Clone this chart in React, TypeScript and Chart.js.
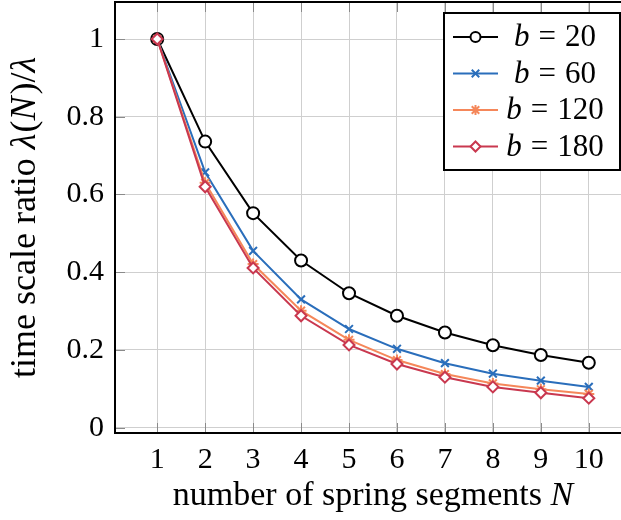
import { useEffect, useRef } from 'react';
import { Chart, registerables } from 'chart.js';

Chart.register(...registerables);

const segments = [1, 2, 3, 4, 5, 6, 7, 8, 9, 10];
const b20 = [1, 0.736, 0.552, 0.43, 0.346, 0.288, 0.245, 0.212, 0.187, 0.167];
const b60 = [1, 0.657, 0.455, 0.33, 0.254, 0.203, 0.166, 0.139, 0.121, 0.105];
const b120 = [1, 0.63, 0.421, 0.301, 0.226, 0.174, 0.138, 0.114, 0.099, 0.087];
const b180 = [1, 0.62, 0.411, 0.288, 0.213, 0.164, 0.13, 0.105, 0.09, 0.076];
const seriesLabels = ['20', '60', '120', '180'];
const xTicks = [1, 2, 3, 4, 5, 6, 7, 8, 9, 10];
const yTicks = [0, 0.2, 0.4, 0.6, 0.8, 1];
const yTickLabels = ['0', '0.2', '0.4', '0.6', '0.8', '1'];
const xTitle = 'number of spring segments ';
const yTitle = 'time scale ratio ';

const FONT = '"Liberation Serif", "Times New Roman", serif';
const COLORS = ['#000000', '#2a6ebb', '#f5875a', '#c9384f'];
const STYLES = ['circle', 'crossRot', 'star', 'rectRot'];

type Part = { t?: string; i?: boolean; g?: number };

function drawMixed(ctx: CanvasRenderingContext2D, parts: Part[], cx: number, cy: number, size: number) {
  let total = 0;
  const widths: number[] = [];
  for (const p of parts) {
    if (p.g) { widths.push(p.g); total += p.g; continue; }
    ctx.font = `${p.i ? 'italic ' : ''}${size}px ${FONT}`;
    const w = ctx.measureText(p.t || '').width;
    widths.push(w);
    total += w;
  }
  let x = cx - total / 2;
  ctx.textBaseline = 'middle';
  ctx.textAlign = 'left';
  ctx.fillStyle = '#000';
  parts.forEach((p, k) => {
    if (!p.g) {
      ctx.font = `${p.i ? 'italic ' : ''}${size}px ${FONT}`;
      ctx.fillText(p.t || '', x, cy);
    }
    x += widths[k];
  });
}

function drawMarker(ctx: CanvasRenderingContext2D, style: string, x: number, y: number, r: number, color: string) {
  ctx.save();
  ctx.strokeStyle = color;
  ctx.lineWidth = 2;
  ctx.fillStyle = '#fff';
  ctx.beginPath();
  if (style === 'circle') {
    ctx.arc(x, y, r, 0, Math.PI * 2);
    ctx.fill();
    ctx.stroke();
  } else if (style === 'crossRot') {
    const d = r * 0.75;
    ctx.moveTo(x - d, y - d); ctx.lineTo(x + d, y + d);
    ctx.moveTo(x - d, y + d); ctx.lineTo(x + d, y - d);
    ctx.stroke();
  } else if (style === 'star') {
    const d = r * 0.75;
    ctx.moveTo(x - d, y - d); ctx.lineTo(x + d, y + d);
    ctx.moveTo(x - d, y + d); ctx.lineTo(x + d, y - d);
    ctx.moveTo(x, y - r); ctx.lineTo(x, y + r);
    ctx.moveTo(x - r, y); ctx.lineTo(x + r, y);
    ctx.stroke();
  } else {
    ctx.moveTo(x, y - r); ctx.lineTo(x + r, y); ctx.lineTo(x, y + r); ctx.lineTo(x - r, y);
    ctx.closePath();
    ctx.fill();
    ctx.stroke();
  }
  ctx.restore();
}

const decorPlugin = {
  id: 'decor',
  afterDatasetsDraw(chart: any) {
    const ctx: CanvasRenderingContext2D = chart.ctx;
    const a = chart.chartArea;
    const xs = chart.scales.x;
    const ys = chart.scales.y;
    ctx.save();
    // inner tick marks
    ctx.strokeStyle = '#8a8a8a';
    ctx.lineWidth = 1;
    ctx.beginPath();
    for (const v of xTicks) {
      const px = Math.round(xs.getPixelForValue(v)) + 0.5;
      ctx.moveTo(px, a.bottom); ctx.lineTo(px, a.bottom - 10);
      ctx.moveTo(px, a.top); ctx.lineTo(px, a.top + 10);
    }
    for (const v of yTicks) {
      const py = Math.round(ys.getPixelForValue(v)) + 0.5;
      ctx.moveTo(a.left, py); ctx.lineTo(a.left + 10, py);
    }
    ctx.stroke();
    // frame
    ctx.strokeStyle = '#000';
    ctx.lineWidth = 2;
    ctx.strokeRect(a.left, a.top, a.right - a.left, a.bottom - a.top);

    // legend
    const lx = 444, ly = 13, lw = 176, lh = 157;
    ctx.fillStyle = '#fff';
    ctx.fillRect(lx, ly, lw, lh);
    ctx.strokeRect(lx, ly, lw, lh);
    seriesLabels.forEach((lab, k) => {
      const y = 37 + k * 36.5;
      ctx.strokeStyle = COLORS[k];
      ctx.lineWidth = 2;
      ctx.beginPath();
      ctx.moveTo(453, y); ctx.lineTo(498, y);
      ctx.stroke();
      drawMarker(ctx, STYLES[k], 475.5, y, 5, COLORS[k]);
      drawMixed(ctx, [{ t: 'b', i: true }, { g: 9 }, { t: '=' }, { g: 9 }, { t: lab }], 555, y + 1, 31);
    });

    // axis titles
    drawMixed(ctx, [{ t: xTitle }, { t: 'N', i: true }], (a.left + a.right) / 2, 496, 34);
    ctx.translate(26, (a.top + a.bottom) / 2);
    ctx.rotate(-Math.PI / 2);
    drawMixed(ctx, [{ t: yTitle }, { t: 'λ', i: true }, { g: 1 }, { t: '(' }, { t: 'N', i: true }, { g: 2 }, { t: ')/' }, { t: 'λ', i: true }], 0, 0, 36);
    ctx.restore();
  },
};

export default function App() {
  const ref = useRef<HTMLCanvasElement>(null);
  useEffect(() => {
    if (!ref.current) return;
    const series = [b20, b60, b120, b180];
    const chart = new Chart(ref.current, {
      type: 'line',
      data: {
        datasets: series.map((s, k) => ({
          label: 'b = ' + seriesLabels[k],
          data: segments.map((n, i) => ({ x: n, y: s[i] })),
          borderColor: COLORS[k],
          backgroundColor: '#ffffff',
          borderWidth: 2,
          pointStyle: STYLES[k] as any,
          pointRadius: k === 0 ? 6 : 5.5,
          pointBorderColor: COLORS[k],
          pointBackgroundColor: '#ffffff',
          pointBorderWidth: 2,
          tension: 0,
          order: 3 - k,
        })),
      },
      options: {
        animation: false,
        responsive: false,
        maintainAspectRatio: false,
        layout: { autoPadding: false, padding: { top: 2, right: 9, left: 0, bottom: 0 } },
        plugins: { legend: { display: false }, tooltip: { enabled: false } },
        scales: {
          x: {
            type: 'linear',
            min: 0.12,
            max: 10.88,
            afterBuildTicks: (s: any) => { s.ticks = xTicks.map((v) => ({ value: v })); },
            afterFit: (s: any) => {
              s.height = 87;
              s.paddingLeft = 0; s.paddingRight = 0; s.paddingTop = 0; s.paddingBottom = 0;
            },
            grid: { color: '#cfcfcf', lineWidth: 1, drawTicks: false },
            border: { display: false },
            ticks: {
              color: '#000',
              font: { family: FONT, size: 30 },
              padding: 9,
              maxRotation: 0,
              autoSkip: false,
              callback: (v: any) => String(v),
            },
          },
          y: {
            type: 'linear',
            min: -0.0136,
            max: 1.0952,
            afterBuildTicks: (s: any) => { s.ticks = yTicks.map((v) => ({ value: v })); },
            afterFit: (s: any) => {
              s.width = 115;
              s.paddingLeft = 0; s.paddingRight = 0; s.paddingTop = 0; s.paddingBottom = 0;
            },
            grid: { color: '#cfcfcf', lineWidth: 1, drawTicks: false },
            border: { display: false },
            ticks: {
              color: '#000',
              font: { family: FONT, size: 30 },
              padding: 11,
              autoSkip: false,
              callback: (v: any) => {
                const idx = yTicks.findIndex((t) => Math.abs(t - v) < 1e-6);
                return idx >= 0 ? yTickLabels[idx] : '';
              },
            },
          },
        },
      },
      plugins: [decorPlugin],
    });
    return () => chart.destroy();
  }, []);
  return (
    <div style={{ position: 'fixed', left: 0, top: 0, width: 621, height: 520, overflow: 'hidden', background: '#fff' }}>
      <canvas ref={ref} width={640} height={520} style={{ width: 640, height: 520, display: 'block' }} />
    </div>
  );
}
